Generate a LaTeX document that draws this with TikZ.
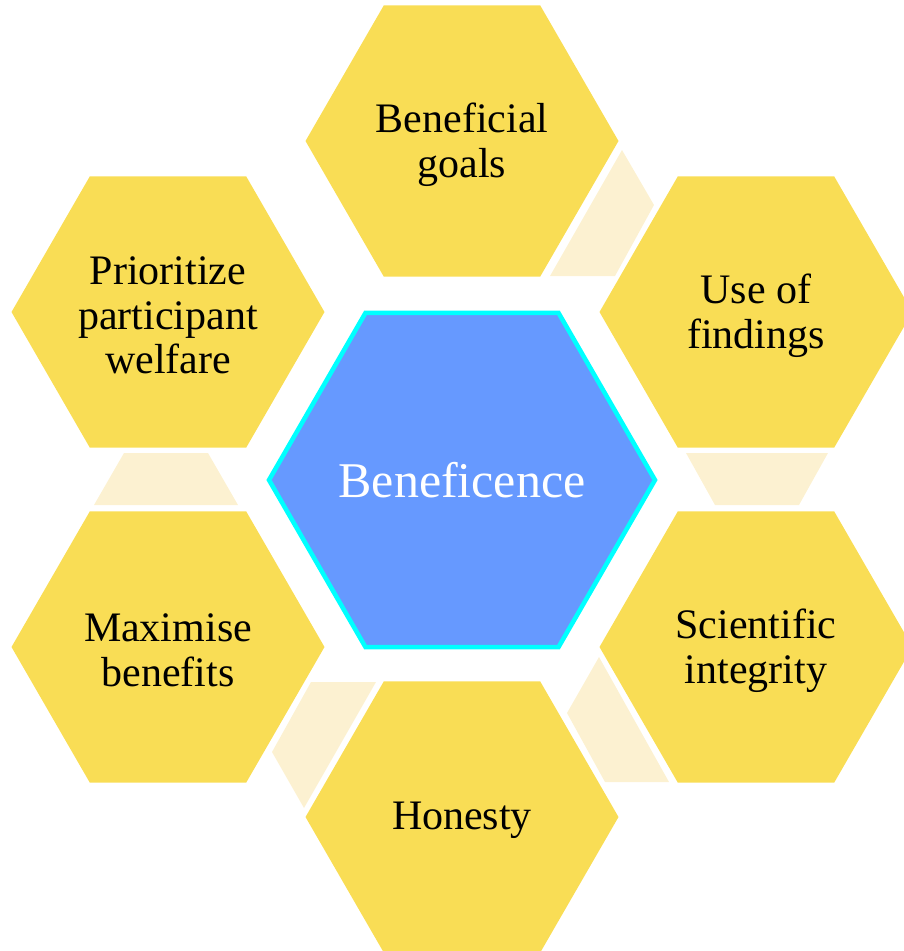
\documentclass[tikz,border=0pt]{standalone}
\usepackage{fontspec}
\setmainfont{Liberation Serif}
\usetikzlibrary{shapes.geometric}
\definecolor{hexyellow}{HTML}{F9DD55}
\definecolor{linkpale}{HTML}{FCF1D1}
\definecolor{hexblue}{HTML}{6699FF}
\definecolor{hexcyan}{HTML}{00FFFF}
\begin{document}
\begin{tikzpicture}[x=1pt,y=-1pt,
  outerhex/.style={regular polygon, regular polygon sides=6, minimum size=313pt,
    inner sep=0pt, outer sep=0pt, fill=hexyellow, draw=none},
  centerhex/.style={regular polygon, regular polygon sides=6, minimum size=386pt,
    inner sep=0pt, outer sep=0pt, fill=hexblue, draw=hexcyan, line width=4.5pt},
  outertext/.style={align=center, text=black, font=\fontsize{42}{44.5}\selectfont, yshift=-3.5pt},
  centertext/.style={align=center, text=white, font=\fontsize{50}{54}\selectfont},
  link/.style={fill=linkpale, draw=none}]
\useasboundingbox (0,0) rectangle (903,951);
% connectors
\fill[link] (550,276) -- (615,276) -- (654,205) -- (622,150) -- cycle;
\fill[link] (686,453) -- (828,453) -- (799,505) -- (715,505) -- cycle;
\fill[link] (599,657) -- (567,713) -- (605,782) -- (669,782) -- cycle;
\fill[link] (311,682) -- (376,682) -- (304,808) -- (272,752) -- cycle;
\fill[link] (124,453) -- (208,453) -- (238,505) -- (94,505) -- cycle;
% hexagons
\node[centerhex] (c) at (462,480) {};
\node[outerhex] (t) at (462,141) {};
\node[outerhex] (ur) at (756,312) {};
\node[outerhex] (lr) at (756,647) {};
\node[outerhex] (b) at (462,817) {};
\node[outerhex] (ll) at (168,647) {};
\node[outerhex] (ul) at (168,312) {};
% texts
\node[centertext] (ct) at (c.center) {Beneficence};
\node[outertext] (tt) at (t.center) {Beneficial\\goals};
\node[outertext] (urt) at (ur.center) {Use of\\findings};
\node[outertext] (lrt) at (lr.center) {Scientific\\integrity};
\node[outertext] (bt) at (b.center) {Honesty};
\node[outertext] (llt) at (ll.center) {Maximise\\benefits};
\node[outertext] (ult) at (ul.center) {Prioritize\\participant\\welfare};
\end{tikzpicture}
\end{document}
